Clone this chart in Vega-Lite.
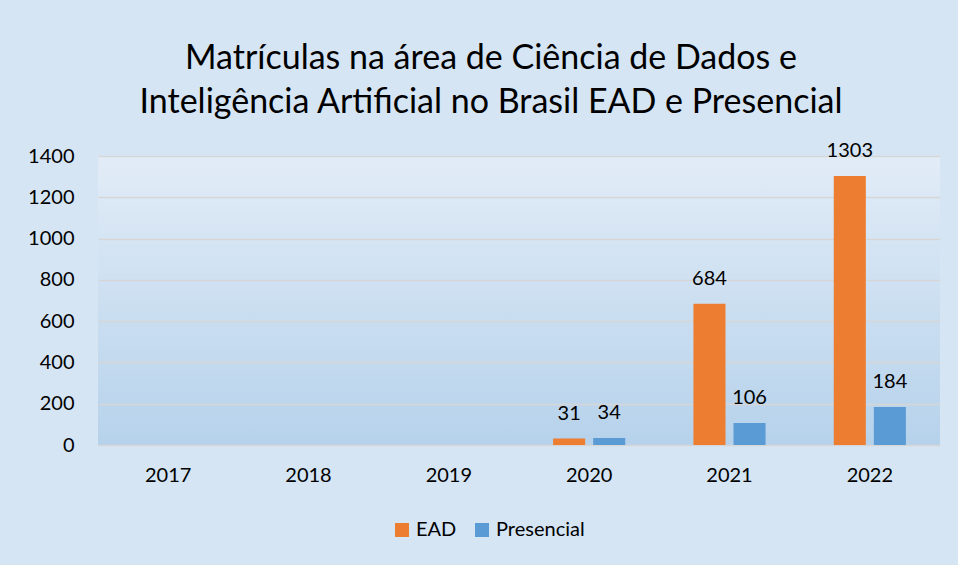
{
  "$schema": "https://vega.github.io/schema/vega-lite/v6.json",
  "width": 842,
  "height": 289,
  "autosize": {"type": "none"},
  "padding": {"left": 98, "top": 156, "right": 18, "bottom": 120},
  "background": "#D5E5F4",
  "title": {
    "text": ["Matrículas na área de Ciência de Dados e", "Inteligência Artificial no Brasil EAD e Presencial"],
    "font": "Lato",
    "fontSize": 34,
    "fontWeight": "normal",
    "color": "#000000",
    "lineHeight": 44,
    "anchor": "middle",
    "dx": -28,
    "offset": 21
  },
  "config": {
    "view": {
      "stroke": null,
      "fill": {"gradient": "linear", "x1": 0, "y1": 0, "x2": 0, "y2": 1, "stops": [{"offset": 0, "color": "#E2ECF7"}, {"offset": 1, "color": "#B6D2EB"}]}
    },
    "font": "Lato"
  },
  "data": {
    "values": [
      {"ano": "2017", "modalidade": "EAD", "matriculas": 0},
      {"ano": "2017", "modalidade": "Presencial", "matriculas": 0},
      {"ano": "2018", "modalidade": "EAD", "matriculas": 0},
      {"ano": "2018", "modalidade": "Presencial", "matriculas": 0},
      {"ano": "2019", "modalidade": "EAD", "matriculas": 0},
      {"ano": "2019", "modalidade": "Presencial", "matriculas": 0},
      {"ano": "2020", "modalidade": "EAD", "matriculas": 31},
      {"ano": "2020", "modalidade": "Presencial", "matriculas": 34},
      {"ano": "2021", "modalidade": "EAD", "matriculas": 684},
      {"ano": "2021", "modalidade": "Presencial", "matriculas": 106},
      {"ano": "2022", "modalidade": "EAD", "matriculas": 1303},
      {"ano": "2022", "modalidade": "Presencial", "matriculas": 184}
    ]
  },
  "encoding": {
    "x": {
      "field": "ano", "type": "nominal", "title": null,
      "scale": {"paddingInner": 0.486, "paddingOuter": 0.243},
      "axis": {"domain": false, "ticks": false, "labelAngle": 0, "labelFontSize": 20, "labelColor": "#000000", "labelPadding": 20, "labelFont": "Lato"}
    },
    "xOffset": {"field": "modalidade", "type": "nominal", "sort": ["EAD", "Presencial"], "scale": {"paddingInner": 0.2}},
    "y": {
      "field": "matriculas", "type": "quantitative", "title": null,
      "scale": {"domain": [0, 1400], "nice": false},
      "axis": {"values": [0, 200, 400, 600, 800, 1000, 1200, 1400], "format": "d", "domain": false, "ticks": false, "labelFontSize": 20, "labelColor": "#000000", "labelPadding": 24, "gridColor": "#D6D6D6", "gridWidth": 1.6, "labelFont": "Lato"}
    }
  },
  "layer": [
    {
      "mark": {"type": "bar"},
      "encoding": {
        "color": {
          "field": "modalidade", "type": "nominal",
          "scale": {"domain": ["EAD", "Presencial"], "range": ["#ED7D31", "#5B9BD5"]},
          "legend": {"title": null, "orient": "none", "legendX": 294, "legendY": 364, "direction": "horizontal", "symbolType": "square", "symbolSize": 196, "symbolStrokeWidth": 0, "labelFontSize": 20, "labelColor": "#000000", "labelFont": "Lato", "labelOffset": 4, "columnPadding": 15}
        }
      }
    },
    {
      "transform": [{"filter": "datum.matriculas > 0"}],
      "mark": {"type": "text", "baseline": "middle", "dy": -25, "fontSize": 20, "color": "#000000", "font": "Lato"},
      "encoding": {"text": {"field": "matriculas", "type": "quantitative", "format": "d"}}
    }
  ]
}
